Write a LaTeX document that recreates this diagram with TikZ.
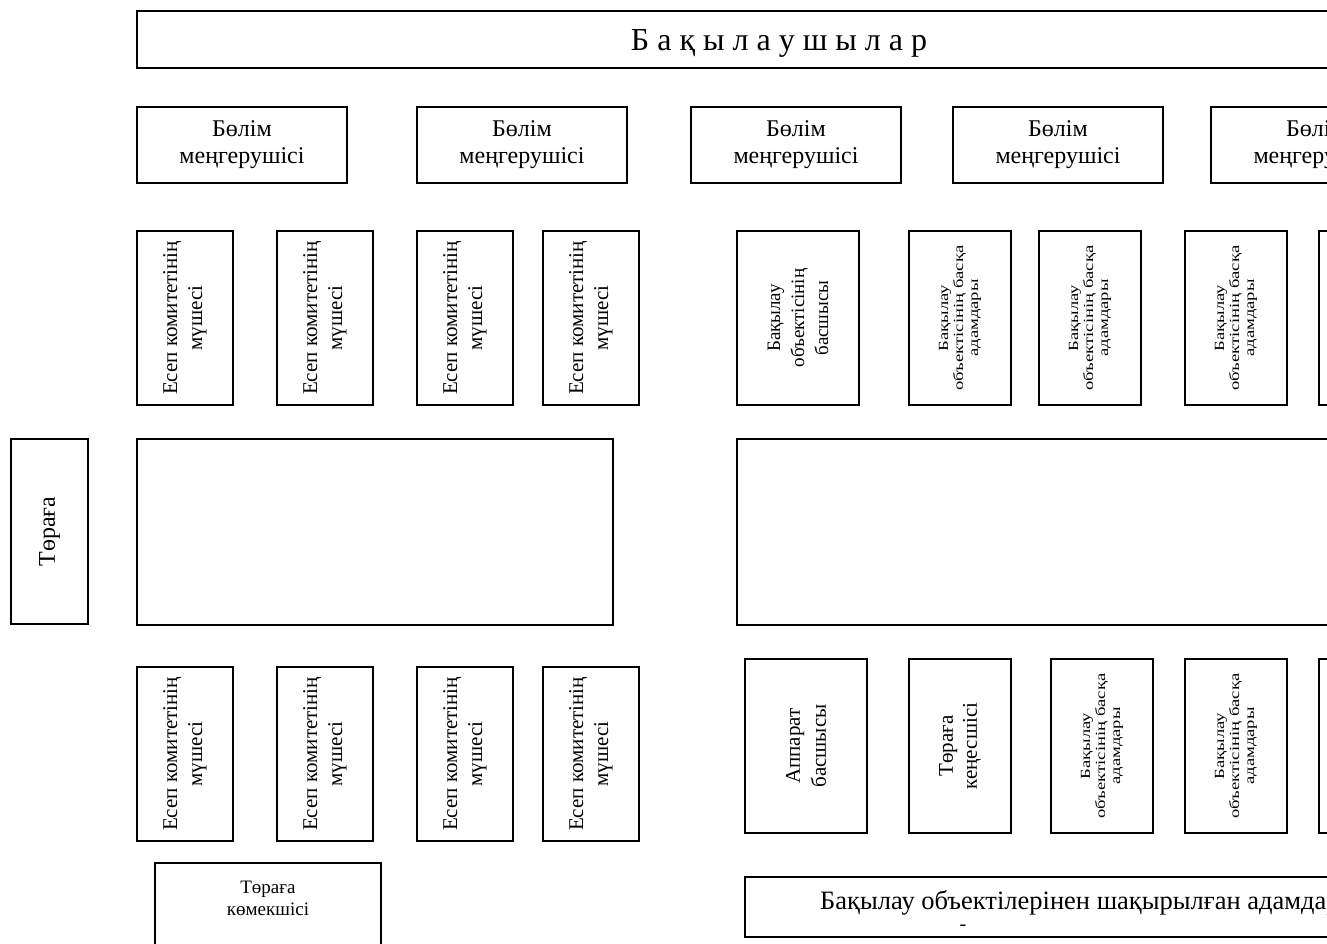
\documentclass[tikz,border=0pt]{standalone}
\usepackage{fontspec}
\setmainfont{Liberation Serif}
\newfontfamily\stretchedserif[FakeStretch=1.33]{Liberation Serif}
\tikzset{
  box/.style={draw, line width=1.3pt, inner sep=0pt, align=center},
  vbox/.style={box, rotate=90},
  fa/.style={font=\fontsize{24}{27}\selectfont},
  fb/.style={font=\fontsize{21}{25}\selectfont},
  fc/.style={font=\stretchedserif\fontsize{14}{15}\selectfont},
}
\begin{document}
\begin{tikzpicture}[x=1pt,y=-1pt]
\useasboundingbox (0,0) rectangle (1327,943);
\clip (0,0) rectangle (1327,943);
% title
\node[box, minimum width=1284pt, minimum height=57pt] (title) at (779,39.5) {};
\node[inner sep=0pt, font=\fontsize{32}{36}\selectfont] (titlet) at (779,43) {Б а қ ы л а у ш ы л а р};
% heads
\foreach \n/\x in {h1/242,h2/522,h3/796,h4/1058,h5/1316}
  \node[box, fa, minimum width=210pt, minimum height=76pt] (\n) at (\x,145) {Бөлім\\меңгерушісі};
% top row members
\foreach \n/\x in {t1/185,t2/325,t3/465,t4/591}
  \node[vbox, fb, minimum width=174pt, minimum height=96pt] (\n) at (\x,318) {Есеп комитетінің\\мүшесі};
\node[vbox, font=\fontsize{19}{24}\selectfont, minimum width=174pt, minimum height=122pt] (t5) at (798,318) {Бақылау\\объектісінің\\басшысы};
\foreach \n/\x in {t6/960,t7/1090,t8/1236,t9/1370}
  \node[vbox, fc, minimum width=174pt, minimum height=102pt] (\n) at (\x,318) {Бақылау\\объектісінің басқа\\адамдары};
% middle
\node[box, minimum width=476pt, minimum height=186pt] (m1) at (375,532) {};
\node[box, minimum width=684pt, minimum height=186pt] (m2) at (1079,532) {};
\node[vbox, font=\fontsize{24}{28}\selectfont, minimum width=185pt, minimum height=77pt] (chair) at (49.5,531.5) {Төраға};
% bottom row members
\foreach \n/\x in {b1/185,b2/325,b3/465,b4/591}
  \node[vbox, fb, minimum width=174pt, minimum height=96pt] (\n) at (\x,754) {Есеп комитетінің\\мүшесі};
\node[vbox, font=\fontsize{21}{26}\selectfont, minimum width=174pt, minimum height=122pt] (b5) at (806,746) {Аппарат\\басшысы};
\node[vbox, font=\fontsize{21}{24}\selectfont, minimum width=174pt, minimum height=102pt] (b6) at (960,746) {Төраға\\кеңесшісі};
\foreach \n/\x in {b7/1102,b8/1236,b9/1370}
  \node[vbox, fc, minimum width=174pt, minimum height=102pt] (\n) at (\x,746) {Бақылау\\объектісінің басқа\\адамдары};
% assistant
\node[box, minimum width=226pt, minimum height=87pt] (asst) at (268,906.5) {};
\node[align=center, font=\fontsize{19}{22}\selectfont, inner sep=0pt] (asstt) at (268,898) {Төраға\\көмекшісі};
% invited
\node[box, minimum width=676pt, minimum height=60pt] (inv) at (1083,907) {};
\node[anchor=west, inner sep=0pt, font=\fontsize{26.5}{28}\selectfont] (invt) at (820,903) {Бақылау объектілерінен шақырылған адамдар};
\node[inner sep=0pt, font=\fontsize{20}{20}\selectfont] (dash) at (963,928) {-};
\end{tikzpicture}
\end{document}
